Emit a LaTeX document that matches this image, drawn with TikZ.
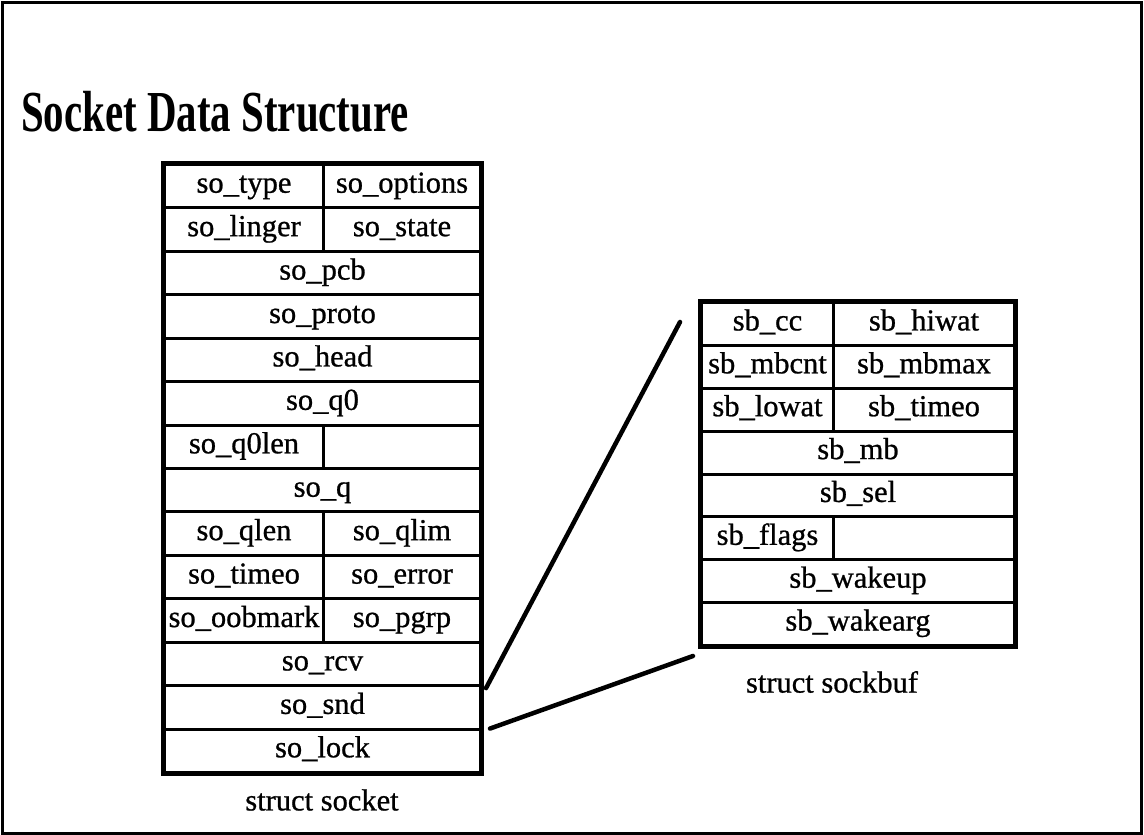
\documentclass[tikz,border=0pt]{standalone}
\usepackage{fontspec}
\setmainfont{Liberation Serif}
\newfontfamily\cellfont[FakeBold=0.8]{Liberation Serif}
\usetikzlibrary{calc}
\begin{document}
\begin{tikzpicture}[x=1pt,y=-1pt,
  cell/.style={draw, line width=3pt, inner sep=0pt, anchor=north west,
    font=\cellfont\fontsize{30.5}{32}\selectfont, text height=20pt, text depth=7pt},
  outline/.style={line width=4.5pt},
  link/.style={line width=4.5pt, line cap=round},
  caption/.style={font=\cellfont\fontsize{30.5}{32}\selectfont, inner sep=0pt},
  frame/.style={line width=3pt}]
\useasboundingbox (0,0) rectangle (1144,835);
\draw[frame] (2,2) rectangle (1141,833);
\node[anchor=base west, inner sep=0pt, font=\fontsize{58}{60}\selectfont\bfseries]
  (title) at (21,131) {\scalebox{0.705}[1]{Socket Data Structure}};
% ---- struct socket ----
\def\hL{43.43}
\node[cell, minimum width=159, minimum height=\hL] (type) at (163,163) {so\_type};
\node[cell, minimum width=157, minimum height=\hL] (options) at (322,163) {so\_options};
\node[cell, minimum width=159, minimum height=\hL] (linger) at (163,206.43) {so\_linger};
\node[cell, minimum width=157, minimum height=\hL] (state) at (322,206.43) {so\_state};
\node[cell, minimum width=316, minimum height=\hL] (pcb) at (163,249.86) {so\_pcb};
\node[cell, minimum width=316, minimum height=\hL] (proto) at (163,293.29) {so\_proto};
\node[cell, minimum width=316, minimum height=\hL] (head) at (163,336.71) {so\_head};
\node[cell, minimum width=316, minimum height=\hL] (q0) at (163,380.14) {so\_q0};
\node[cell, minimum width=159, minimum height=\hL] (q0len) at (163,423.57) {so\_q0len};
\node[cell, minimum width=157, minimum height=\hL] (q0pad) at (322,423.57) {};
\node[cell, minimum width=316, minimum height=\hL] (q) at (163,467) {so\_q};
\node[cell, minimum width=159, minimum height=\hL] (qlen) at (163,510.43) {so\_qlen};
\node[cell, minimum width=157, minimum height=\hL] (qlim) at (322,510.43) {so\_qlim};
\node[cell, minimum width=159, minimum height=\hL] (timeo) at (163,553.86) {so\_timeo};
\node[cell, minimum width=157, minimum height=\hL] (error) at (322,553.86) {so\_error};
\node[cell, minimum width=159, minimum height=\hL] (oobmark) at (163,597.29) {so\_oobmark};
\node[cell, minimum width=157, minimum height=\hL] (pgrp) at (322,597.29) {so\_pgrp};
\node[cell, minimum width=316, minimum height=\hL] (rcv) at (163,640.71) {so\_rcv};
\node[cell, minimum width=316, minimum height=\hL] (snd) at (163,684.14) {so\_snd};
\node[cell, minimum width=316, minimum height=\hL] (lock) at (163,727.57) {so\_lock};
\draw[outline] (type.north west) rectangle (lock.south east);
\node[caption] (socketlbl) at (322,800) {struct socket};
% ---- struct sockbuf ----
\def\hR{42.875}
\node[cell, minimum width=132, minimum height=\hR] (cc) at (700,301) {sb\_cc};
\node[cell, minimum width=181, minimum height=\hR] (hiwat) at (832,301) {sb\_hiwat};
\node[cell, minimum width=132, minimum height=\hR] (mbcnt) at (700,343.875) {sb\_mbcnt};
\node[cell, minimum width=181, minimum height=\hR] (mbmax) at (832,343.875) {sb\_mbmax};
\node[cell, minimum width=132, minimum height=\hR] (lowat) at (700,386.75) {sb\_lowat};
\node[cell, minimum width=181, minimum height=\hR] (sbtimeo) at (832,386.75) {sb\_timeo};
\node[cell, minimum width=313, minimum height=\hR] (mb) at (700,429.625) {sb\_mb};
\node[cell, minimum width=313, minimum height=\hR] (sel) at (700,472.5) {sb\_sel};
\node[cell, minimum width=132, minimum height=\hR] (flags) at (700,515.375) {sb\_flags};
\node[cell, minimum width=181, minimum height=\hR] (flagspad) at (832,515.375) {};
\node[cell, minimum width=313, minimum height=\hR] (wakeup) at (700,558.25) {sb\_wakeup};
\node[cell, minimum width=313, minimum height=\hR] (wakearg) at (700,601.125) {sb\_wakearg};
\draw[outline] (cc.north west) rectangle (wakearg.south east);
\node[caption] (sockbuflbl) at (832,682) {struct sockbuf};
% ---- connectors ----
\coordinate (topend) at ($(cc.north west)+(-20,21)$);
\coordinate (botend) at ($(wakearg.south west)+(-7,9)$);
\draw[link] ($(snd.north east)+(4,4)$) -- (topend);
\draw[link] ($(snd.south east)+(8,-2)$) -- (botend);
\end{tikzpicture}
\end{document}
